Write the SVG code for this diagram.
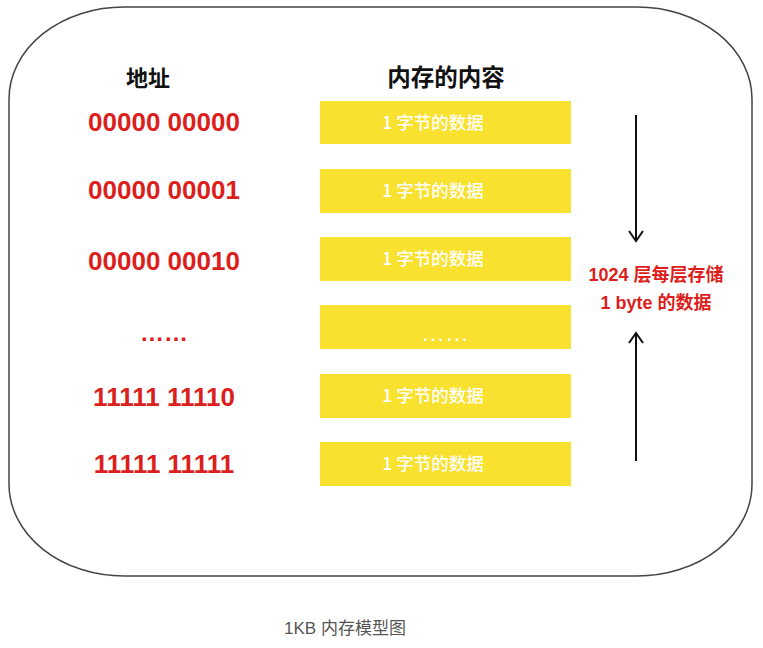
<svg xmlns="http://www.w3.org/2000/svg" width="763" height="648" viewBox="0 0 763 648">
<style>
.addr{font-family:"Liberation Sans","Noto Sans",sans-serif;font-weight:bold;font-size:26px;fill:#dc1f1c;text-anchor:middle}
.box{fill:#f9e12f}
.btxt{font-family:"Noto Sans CJK SC","Noto Sans",sans-serif;font-weight:500;font-size:17.5px;fill:#ffffff;text-anchor:middle}
.head{font-family:"Noto Sans CJK SC",sans-serif;font-weight:bold;font-size:22px;fill:#111;text-anchor:middle}
.note{font-family:"Liberation Sans","Noto Sans CJK SC",sans-serif;font-weight:bold;font-size:18px;fill:#dc1f1c;text-anchor:middle}
.conn{stroke:#111;stroke-width:2;fill:none}
</style>
<defs>
<marker id="arr" viewBox="0 0 16 16" refX="14" refY="8" markerWidth="16" markerHeight="16" orient="auto" markerUnits="userSpaceOnUse">
<path d="M4,1 L14,8 L4,15" fill="none" stroke="#111" stroke-width="2"/>
</marker>
</defs>
<rect x="0" y="0" width="763" height="648" fill="#ffffff"/>
<path id="frame" d="M124,7 H637 A115,92 0 0 1 752,99 V484 A115,92 0 0 1 637,576 H124 A115,92 0 0 1 9,484 V99 A115,92 0 0 1 124,7 Z" fill="#ffffff" stroke="#444" stroke-width="1.5"/>
<g id="headers">
<text class="head" x="148" y="86">地址</text>
<text class="head" x="446" y="86" style="font-size:23.5px">内存的内容</text>
</g>
<g id="row1"><text class="addr" x="164" y="131">00000 00000</text><rect class="box" x="320" y="101" width="251" height="43"/><text class="btxt" x="433" y="129">1 字节的数据</text></g>
<g id="row2"><text class="addr" x="164" y="199">00000 00001</text><rect class="box" x="320" y="169" width="251" height="44"/><text class="btxt" x="433" y="197">1 字节的数据</text></g>
<g id="row3"><text class="addr" x="164" y="270">00000 00010</text><rect class="box" x="320" y="237" width="251" height="44"/><text class="btxt" x="433" y="265">1 字节的数据</text></g>
<g id="row4"><text class="addr" x="164" y="341" style="font-size:24px">……</text><rect class="box" x="320" y="305" width="251" height="44"/><text class="btxt" x="445" y="341" style="font-family:'Liberation Sans',sans-serif;font-size:24px">……</text></g>
<g id="row5"><text class="addr" x="164" y="406">11111 11110</text><rect class="box" x="320" y="374" width="251" height="44"/><text class="btxt" x="433" y="402">1 字节的数据</text></g>
<g id="row6"><text class="addr" x="164" y="473">11111 11111</text><rect class="box" x="320" y="442" width="251" height="44"/><text class="btxt" x="433" y="470">1 字节的数据</text></g>
<g id="connectors">
<line class="conn" x1="636" y1="115" x2="636" y2="241" marker-end="url(#arr)"/>
<line class="conn" x1="636" y1="461" x2="636" y2="333" marker-end="url(#arr)"/>
</g>
<g id="note">
<text class="note" x="656" y="281">1024 层每层存储</text>
<text class="note" x="656" y="309">1 byte 的数据</text>
</g>
<text id="caption" x="345" y="634" style="font-family:'Liberation Sans','Noto Sans CJK SC',sans-serif;font-size:17px;fill:#555;text-anchor:middle">1KB 内存模型图</text>
</svg>
